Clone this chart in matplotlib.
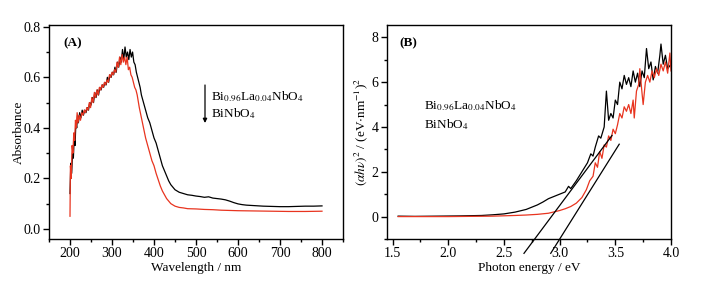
import matplotlib
matplotlib.use("Agg")
import matplotlib.pyplot as plt
from matplotlib.ticker import MultipleLocator

plt.rcParams['font.family'] = ['Liberation Serif', 'DejaVu Serif']
plt.rcParams['mathtext.fontset'] = 'stix'

# ---- Panel A data: absorbance vs wavelength ----
wl_la = [200, 202, 204, 206, 208, 210, 212, 214, 216, 218, 220, 223, 226, 229, 232, 235, 238,
         241, 244, 247, 250, 253, 256, 259, 262, 265, 268, 271, 274, 277, 280, 283, 286, 289,
         292, 295, 298, 301, 304, 307, 310, 313, 316, 319, 322, 325, 328, 331, 334, 337, 340,
         343, 346, 349, 352, 355, 358, 361, 364, 367, 370, 375, 380, 385, 390, 395, 400, 405,
         410, 415, 420, 425, 430, 435, 440, 445, 450, 460, 470, 480, 490, 500, 510, 520, 530,
         540, 550, 560, 570, 580, 590, 600, 610, 620, 640, 660, 680, 700, 720, 740, 760, 780, 800]
abs_la = [0.14, 0.26, 0.22, 0.30, 0.28, 0.36, 0.33, 0.42, 0.40, 0.45, 0.42, 0.46, 0.44, 0.47,
          0.45, 0.47, 0.46, 0.48, 0.47, 0.50, 0.49, 0.52, 0.50, 0.54, 0.52, 0.55, 0.53, 0.56,
          0.55, 0.57, 0.56, 0.58, 0.57, 0.60, 0.58, 0.61, 0.60, 0.62, 0.61, 0.64, 0.62, 0.66,
          0.64, 0.68, 0.66, 0.71, 0.67, 0.72, 0.68, 0.70, 0.67, 0.71, 0.68, 0.70, 0.66, 0.65,
          0.62, 0.60, 0.58, 0.56, 0.53, 0.50, 0.47, 0.44, 0.42, 0.39, 0.36, 0.34, 0.31, 0.28,
          0.25, 0.23, 0.21, 0.19, 0.175, 0.165, 0.155, 0.145, 0.14, 0.135, 0.133, 0.13, 0.128,
          0.125, 0.127, 0.122, 0.12, 0.118, 0.115, 0.11, 0.104, 0.099, 0.096, 0.094, 0.092,
          0.09, 0.089, 0.088, 0.088, 0.089, 0.09, 0.09, 0.091]

wl_bi = [200, 201, 203, 205, 207, 209, 211, 213, 215, 217, 219, 222, 225, 228, 231, 234, 237,
         240, 243, 246, 249, 252, 255, 258, 261, 264, 267, 270, 273, 276, 279, 282, 285, 288,
         291, 294, 297, 300, 303, 306, 309, 312, 315, 318, 321, 324, 327, 330, 333, 336, 339,
         342, 345, 348, 351, 354, 357, 360, 365, 370, 375, 380, 385, 390, 395, 400, 405, 410,
         415, 420, 425, 430, 440, 450, 460, 470, 480, 500, 520, 540, 560, 580, 600, 640, 680,
         720, 760, 800]
abs_bi = [0.05, 0.25, 0.20, 0.33, 0.30, 0.38, 0.35, 0.43, 0.40, 0.46, 0.42, 0.45, 0.43, 0.46,
          0.45, 0.47, 0.46, 0.48, 0.47, 0.50, 0.48, 0.52, 0.50, 0.54, 0.52, 0.55, 0.53, 0.56,
          0.55, 0.57, 0.56, 0.58, 0.57, 0.59, 0.58, 0.61, 0.60, 0.62, 0.61, 0.63, 0.62, 0.66,
          0.64, 0.68, 0.65, 0.69, 0.66, 0.68, 0.65, 0.68, 0.63, 0.64, 0.61, 0.60, 0.58, 0.56,
          0.55, 0.53, 0.48, 0.44, 0.40, 0.36, 0.33, 0.30, 0.27, 0.25, 0.22, 0.195, 0.17, 0.15,
          0.135, 0.12, 0.10, 0.09, 0.085, 0.083, 0.08, 0.079, 0.077, 0.076, 0.074, 0.073, 0.072,
          0.071, 0.07, 0.069, 0.069, 0.07]

# ---- Panel B data: Tauc plot ----
e_la = [1.55, 1.7, 1.9, 2.1, 2.3, 2.4, 2.5, 2.6, 2.7, 2.8, 2.85, 2.9, 2.95, 3.0, 3.05, 3.08,
        3.1, 3.15, 3.2, 3.25, 3.28, 3.3, 3.32, 3.35, 3.37, 3.4, 3.42, 3.44, 3.46, 3.48, 3.5,
        3.52, 3.54, 3.56, 3.58, 3.6, 3.62, 3.64, 3.66, 3.68, 3.7, 3.72, 3.74, 3.76, 3.78, 3.8,
        3.82, 3.84, 3.86, 3.88, 3.9, 3.91, 3.93, 3.95, 3.97, 4.0]
t_la = [0.02, 0.01, 0.02, 0.03, 0.05, 0.08, 0.12, 0.2, 0.32, 0.52, 0.65, 0.8, 0.9, 1.0, 1.1,
        1.35, 1.25, 1.6, 2.0, 2.4, 2.8, 2.7, 3.1, 3.6, 3.5, 4.0, 5.6, 4.3, 4.6, 4.4, 5.2, 5.0,
        6.0, 5.7, 6.3, 5.9, 6.2, 5.8, 6.5, 6.0, 6.4, 5.8, 6.5, 6.2, 7.5, 6.6, 6.9, 6.1, 6.7,
        6.4, 7.2, 7.7, 6.8, 7.2, 6.6, 6.8]

e_bi = [1.55, 1.8, 2.0, 2.2, 2.4, 2.6, 2.7, 2.8, 2.9, 3.0, 3.05, 3.1, 3.15, 3.2, 3.24, 3.27,
        3.3, 3.32, 3.34, 3.36, 3.38, 3.4, 3.42, 3.44, 3.46, 3.48, 3.5, 3.52, 3.54, 3.56, 3.58,
        3.6, 3.62, 3.64, 3.66, 3.67, 3.69, 3.71, 3.72, 3.74, 3.75, 3.77, 3.79, 3.81, 3.83, 3.85,
        3.87, 3.89, 3.91, 3.93, 3.95, 3.97, 3.99, 4.0]
t_bi = [0.0, 0.0, 0.0, 0.01, 0.02, 0.05, 0.07, 0.1, 0.15, 0.27, 0.35, 0.45, 0.6, 0.85, 1.2,
        1.6, 1.8, 2.4, 2.2, 2.9, 2.6, 3.2, 3.1, 3.6, 3.4, 3.9, 3.7, 4.1, 4.6, 4.4, 4.9, 4.7,
        5.0, 4.6, 5.2, 4.4, 5.6, 5.9, 6.6, 5.5, 5.0, 6.0, 6.3, 6.0, 6.5, 6.2, 6.6, 6.3, 6.8,
        6.5, 6.9, 6.4, 7.3, 6.5]

# tangent (band-gap extrapolation) lines: endpoints
fit_la_e = [2.68, 3.47]
fit_la_t = [-1.64, 3.62]
fit_bi_e = [2.92, 3.535]
fit_bi_t = [-1.64, 3.23]

RED = '#e8341f'

fig = plt.figure(figsize=(7.03, 2.86), dpi=100)
axA = fig.add_axes([49/703, 47/286, 294/703, 214/286])
axB = fig.add_axes([387/703, 47/286, 284/703, 214/286])

FS = 9.5
TFS = 10
for ax in (axA, axB):
    for s in ax.spines.values():
        s.set_linewidth(1.0)
    ax.tick_params(which='major', direction='out', length=4, width=1, labelsize=TFS, pad=2)
    ax.tick_params(which='minor', direction='out', length=2.2, width=1)
    ax.tick_params(top=False, right=False, which='both')

# Panel A
axA.plot(wl_la, abs_la, color='black', lw=0.9)
axA.plot(wl_bi, abs_bi, color=RED, lw=0.9)
axA.set_xlim(150, 850)
axA.set_ylim(-0.04, 0.807)
axA.xaxis.set_major_locator(MultipleLocator(100))
axA.xaxis.set_minor_locator(MultipleLocator(50))
axA.yaxis.set_major_locator(MultipleLocator(0.2))
axA.yaxis.set_minor_locator(MultipleLocator(0.1))
axA.set_xlabel('Wavelength / nm', fontsize=FS, labelpad=1)
axA.set_ylabel('Absorbance', fontsize=FS, labelpad=-1)
axA.text(0.05, 0.9, '(A)', transform=axA.transAxes, fontsize=FS, fontweight='bold')
axA.annotate('', xy=(205, 286 - 123), xytext=(205, 286 - 85), xycoords='figure pixels',
             textcoords='figure pixels',
             arrowprops=dict(arrowstyle='-|>', color='black', lw=0.9, mutation_scale=6,
                             shrinkA=0, shrinkB=0))
axA.text(211, 286 - 97, r'Bi$_{0.96}$La$_{0.04}$NbO$_4$', transform=None, fontsize=FS,
         va='center', ha='left')
axA.text(211, 286 - 114, r'BiNbO$_4$', transform=None, fontsize=FS, va='center', ha='left')

# Panel B
axB.plot(e_la, t_la, color='black', lw=0.9)
axB.plot(e_bi, t_bi, color=RED, lw=0.9)
axB.plot(fit_la_e, fit_la_t, color='black', lw=0.9, clip_on=False)
axB.plot(fit_bi_e, fit_bi_t, color='black', lw=0.9, clip_on=False)
axB.set_xlim(1.45, 4.0)
axB.set_ylim(-1, 8.55)
axB.xaxis.set_major_locator(MultipleLocator(0.5))
axB.xaxis.set_minor_locator(MultipleLocator(0.25))
axB.yaxis.set_major_locator(MultipleLocator(2))
axB.yaxis.set_minor_locator(MultipleLocator(1))
axB.set_xlabel('Photon energy / eV', fontsize=FS, labelpad=1)
axB.set_ylabel(r'$(\alpha h\nu)^2$ / (eV$\cdot$nm$^{-1}$)$^2$', fontsize=FS, labelpad=1)
axB.text(0.045, 0.9, '(B)', transform=axB.transAxes, fontsize=FS, fontweight='bold')
axB.text(424, 286 - 106, r'Bi$_{0.96}$La$_{0.04}$NbO$_4$', transform=None, fontsize=FS,
         va='center', ha='left')
axB.text(424, 286 - 125, r'BiNbO$_4$', transform=None, fontsize=FS, va='center', ha='left')

fig.savefig('out.png', dpi=100)
